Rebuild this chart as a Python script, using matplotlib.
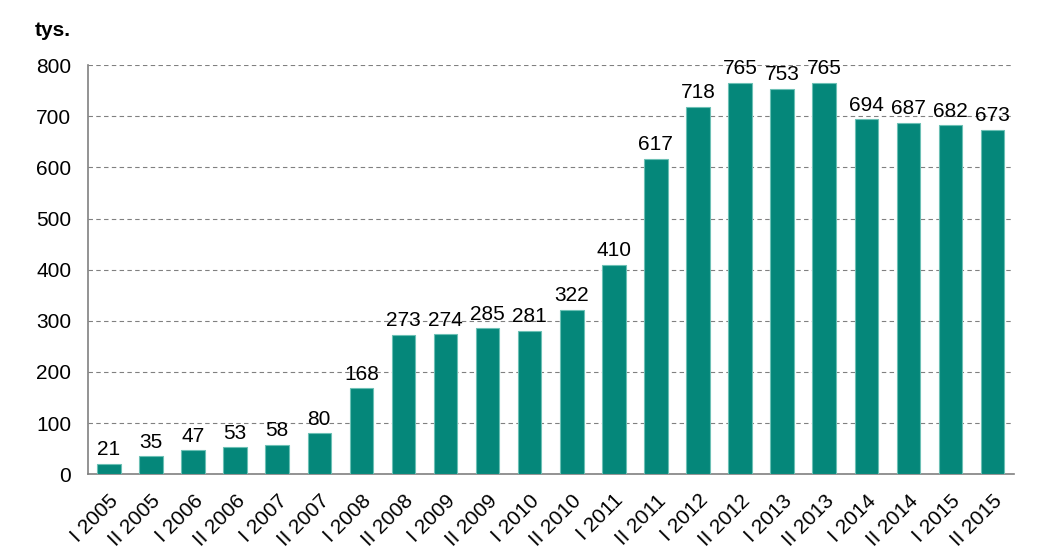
import matplotlib.pyplot as plt

plt.rcParams['font.family'] = ['Liberation Sans', 'DejaVu Sans']

periods = ['I 2005', 'II 2005', 'I 2006', 'II 2006', 'I 2007', 'II 2007',
           'I 2008', 'II 2008', 'I 2009', 'II 2009', 'I 2010', 'II 2010',
           'I 2011', 'II 2011', 'I 2012', 'II 2012', 'I 2013', 'II 2013',
           'I 2014', 'II 2014', 'I 2015', 'II 2015']
values = [21, 35, 47, 53, 58, 80, 168, 273, 274, 285, 281, 322,
          410, 617, 718, 765, 753, 765, 694, 687, 682, 673]
y_ticks = [0, 100, 200, 300, 400, 500, 600, 700, 800]

fig = plt.figure(figsize=(10.46, 5.56), dpi=100)
ax = fig.add_axes([0.084, 0.147, 0.885, 0.736])

x = range(len(values))
ax.bar(x, values, width=0.56, color='#05877A', edgecolor='#6CC0B5', linewidth=0.8, zorder=3)

# value labels above bars
for xi, v in zip(x, values):
    ax.text(xi, v + 9, str(v), ha='center', va='bottom', fontsize=15, color='black')

ax.set_xlim(-0.5, len(values) - 0.5)
ax.set_ylim(0, 800)
ax.set_yticks(y_ticks)
ax.set_yticklabels([str(t) for t in y_ticks], fontsize=15)
ax.yaxis.grid(True, linestyle=(0, (4, 3)), color='#808080', linewidth=0.8, zorder=0)
ax.tick_params(axis='y', length=0, pad=12)
ax.tick_params(axis='x', length=0, pad=12)
ax.set_xticks(list(x))
ax.set_xticklabels(periods, rotation=45, ha='right', rotation_mode='anchor', fontsize=15)

for s in ['top', 'right']:
    ax.spines[s].set_visible(False)
for s in ['left', 'bottom']:
    ax.spines[s].set_color('#808080')
    ax.spines[s].set_linewidth(1.2)

fig.text(0.033, 0.935, 'tys.', fontsize=15, fontweight='bold')

fig.savefig('out.png', dpi=100)
